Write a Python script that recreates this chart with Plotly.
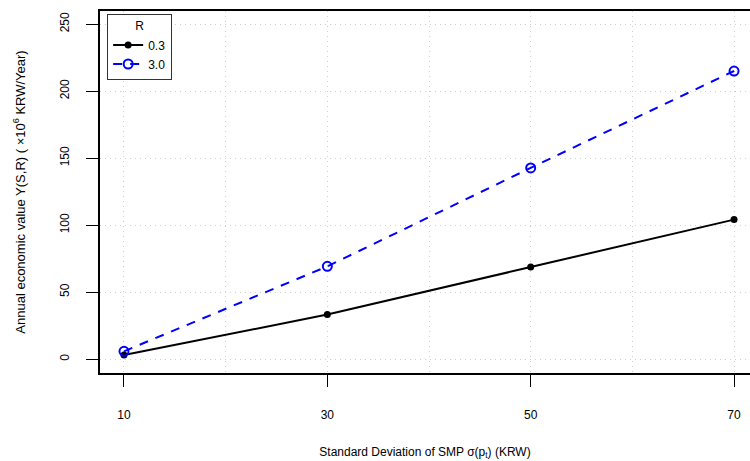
import plotly.graph_objects as go

x_vals = [10, 30, 50, 70]
y_r03 = [3.0, 33.2, 68.7, 104.1]
y_r30 = [5.8, 69.2, 142.7, 215.0]
series_names = ["0.3", "3.0"]
x_ticks = [10, 30, 50, 70]
y_ticks = [0, 50, 100, 150, 200, 250]

fig = go.Figure()
fig.add_trace(go.Scatter(
    x=x_vals, y=y_r03, name=series_names[0], mode="lines+markers",
    line=dict(color="black", width=2),
    marker=dict(symbol="circle", size=7, color="black"),
))
fig.add_trace(go.Scatter(
    x=x_vals, y=y_r30, name=series_names[1], mode="lines+markers",
    line=dict(color="#0000ff", width=2, dash="9px,8px"),
    marker=dict(symbol="circle-open", size=9, color="#0000ff", line=dict(width=2)),
))

grid_col = "#cfcfcf"
grid_dash = "1px,4px"

fig.update_layout(
    width=750, height=461,
    margin=dict(l=100, r=0, t=11, b=88),
    paper_bgcolor="white", plot_bgcolor="white",
    font=dict(family="Liberation Sans, Arial, sans-serif", size=12, color="black"),
    showlegend=True,
    legend=dict(
        x=0.011, y=0.992, xanchor="left", yanchor="top",
        bordercolor="#333333", borderwidth=1, bgcolor="white",
        title=dict(text="R", side="top center", font=dict(size=12)),
        font=dict(size=12), tracegroupgap=0, itemwidth=30,
    ),
    xaxis=dict(
        range=[7.64, 71.57], tickmode="array", tickvals=x_ticks,
        ticks="outside", ticklen=12, tickcolor="black", tickwidth=1,
        ticklabelstandoff=18,
        showline=True, mirror=True, linecolor="black", linewidth=1.5,
        showgrid=True, gridcolor=grid_col, griddash=grid_dash, gridwidth=1,
        minor=dict(tickmode="array", tickvals=[20, 40, 60], showgrid=True,
                   gridcolor=grid_col, griddash=grid_dash, gridwidth=1, ticks=""),
        zeroline=False,
        title=dict(text="Standard Deviation of SMP σ(p<sub>t</sub>) (KRW)",
                   font=dict(size=12), standoff=26),
    ),
    yaxis=dict(
        range=[-10.4, 259.8], tickmode="array", tickvals=y_ticks,
        ticks="outside", ticklen=12, tickcolor="black", tickwidth=1,
        tickangle=-90, ticklabelstandoff=12,
        showline=True, mirror=False, linecolor="black", linewidth=1.5,
        showgrid=True, gridcolor=grid_col, griddash=grid_dash, gridwidth=1,
        zeroline=False,
        title=dict(text="Annual economic value Y(S,R) ( ×10<sup>6</sup> KRW/Year)",
                   font=dict(size=13), standoff=30),
    ),
)

fig.write_html("out.html")
